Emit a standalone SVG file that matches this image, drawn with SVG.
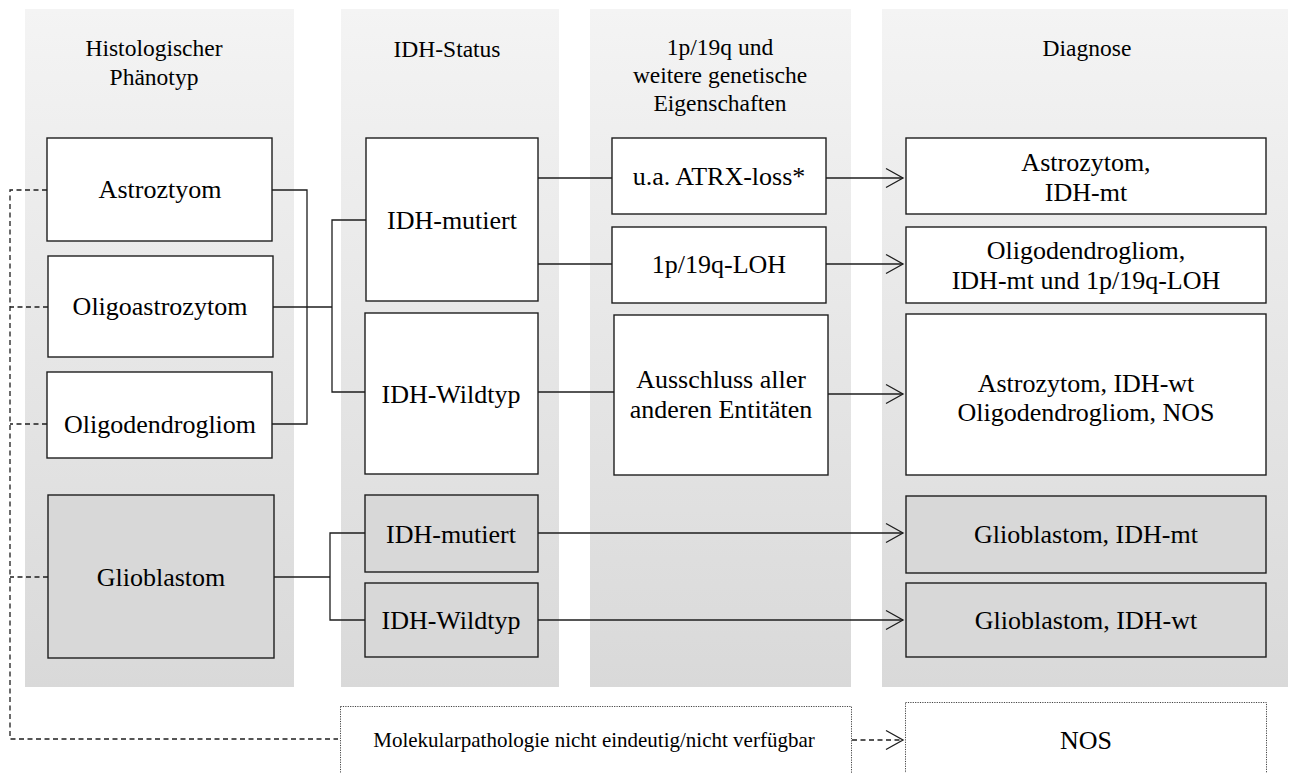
<svg xmlns="http://www.w3.org/2000/svg" width="1293" height="773" viewBox="0 0 1293 773">
<style>
.col{fill:url(#colgrad)}
.box{fill:#ffffff;stroke:#1e1e1e;stroke-width:1.4}
.gbox{fill:#d8d8d8;stroke:#1e1e1e;stroke-width:1.4}
.dot{fill:#ffffff;stroke:#444;stroke-width:1;stroke-dasharray:1.2 1.2}
text{font-family:'Liberation Serif','Tinos','Times New Roman','Nimbus Roman','DejaVu Serif',serif;fill:#000;text-anchor:middle}
.hd{font-size:23.5px}
.t{font-size:26px}
.sm{font-size:21px}
.ln{fill:none;stroke:#1e1e1e;stroke-width:1.3}
.ds{fill:none;stroke:#1e1e1e;stroke-width:1.3;stroke-dasharray:5 3.5}
</style>
<defs>
<linearGradient id="colgrad" x1="0" y1="0" x2="0" y2="1">
<stop offset="0" stop-color="#f4f4f4"/>
<stop offset="0.1" stop-color="#f1f1f1"/>
<stop offset="1" stop-color="#d9d9d9"/>
</linearGradient>
<marker id="arr" markerUnits="userSpaceOnUse" markerWidth="22" markerHeight="24" viewBox="0 0 22 24" refX="19" refY="12" orient="auto">
<path d="M2,2.5 L19,12 L2,21.5" fill="none" stroke="#1e1e1e" stroke-width="1.3" stroke-dasharray="none"/>
</marker>
</defs>
<rect width="1293" height="773" fill="#ffffff"/>
<g id="columns">
<rect class="col" x="25" y="9" width="269" height="678"/>
<rect class="col" x="341" y="9" width="218" height="678"/>
<rect class="col" x="590" y="9" width="261" height="678"/>
<rect class="col" x="882" y="9" width="406" height="678"/>
</g>
<g id="headers">
<text class="hd" x="154" y="56">Histologischer</text>
<text class="hd" x="154" y="85">Phänotyp</text>
<text class="hd" x="447" y="57">IDH-Status</text>
<text class="hd" x="720" y="55">1p/19q und</text>
<text class="hd" x="720" y="83">weitere genetische</text>
<text class="hd" x="720" y="111">Eigenschaften</text>
<text class="hd" x="1087" y="56">Diagnose</text>
</g>
<g id="connectors">
<path class="ds" d="M47,190 H10 V739 H338"/>
<path class="ds" d="M48,307 H10"/>
<path class="ds" d="M47,424 H10"/>
<path class="ds" d="M48,577 H10"/>
<path class="ln" d="M272,190 H307 V424 H272"/>
<path class="ln" d="M273,307 H332"/>
<path class="ln" d="M366,220 H332 V392 H365"/>
<path class="ln" d="M538,178 H612"/>
<path class="ln" d="M538,264 H612"/>
<path class="ln" d="M538,392 H614"/>
<path class="ln" d="M826,178 H903" marker-end="url(#arr)"/>
<path class="ln" d="M826,264 H903" marker-end="url(#arr)"/>
<path class="ln" d="M828,394 H903" marker-end="url(#arr)"/>
<path class="ln" d="M274,577 H330"/>
<path class="ln" d="M365,533 H330 V620 H365"/>
<path class="ln" d="M538,533 H903" marker-end="url(#arr)"/>
<path class="ln" d="M538,620 H903" marker-end="url(#arr)"/>
<path class="ds" d="M852,740 H903" marker-end="url(#arr)"/>
</g>
<g id="n-astro">
<rect class="box" x="47" y="138" width="225" height="103"/>
<text class="t" x="160" y="198">Astroztyom</text>
</g>
<g id="n-oligoastro">
<rect class="box" x="48" y="256" width="225" height="101"/>
<text class="t" x="160" y="315">Oligoastrozytom</text>
</g>
<g id="n-oligodendro">
<rect class="box" x="47" y="372" width="225" height="86"/>
<text class="t" x="160" y="433">Oligodendrogliom</text>
</g>
<g id="n-glio">
<rect class="gbox" x="48" y="495" width="226" height="163"/>
<text class="t" x="161" y="586">Glioblastom</text>
</g>
<g id="n-idhmut">
<rect class="box" x="366" y="138" width="172" height="163"/>
<text class="t" x="452" y="229">IDH-mutiert</text>
</g>
<g id="n-idhwt">
<rect class="box" x="365" y="313" width="173" height="161"/>
<text class="t" x="451" y="403">IDH-Wildtyp</text>
</g>
<g id="n-idhmut2">
<rect class="gbox" x="365" y="495" width="173" height="77"/>
<text class="t" x="451" y="543">IDH-mutiert</text>
</g>
<g id="n-idhwt2">
<rect class="gbox" x="365" y="583" width="173" height="74"/>
<text class="t" x="451" y="629">IDH-Wildtyp</text>
</g>
<g id="n-atrx">
<rect class="box" x="612" y="138" width="214" height="76"/>
<text class="t" x="719" y="185">u.a. ATRX-loss*</text>
</g>
<g id="n-loh">
<rect class="box" x="612" y="227" width="214" height="76"/>
<text class="t" x="719" y="273">1p/19q-LOH</text>
</g>
<g id="n-aussch">
<rect class="box" x="614" y="315" width="214" height="160"/>
<text class="t" x="721" y="388">Ausschluss aller</text>
<text class="t" x="721" y="418">anderen Entitäten</text>
</g>
<g id="n-d1">
<rect class="box" x="906" y="138" width="360" height="76"/>
<text class="t" x="1086" y="171">Astrozytom,</text>
<text class="t" x="1086" y="201">IDH-mt</text>
</g>
<g id="n-d2">
<rect class="box" x="906" y="227" width="360" height="76"/>
<text class="t" x="1086" y="259">Oligodendrogliom,</text>
<text class="t" x="1086" y="289">IDH-mt und 1p/19q-LOH</text>
</g>
<g id="n-d3">
<rect class="box" x="906" y="314" width="360" height="161"/>
<text class="t" x="1086" y="392">Astrozytom, IDH-wt</text>
<text class="t" x="1086" y="421">Oligodendrogliom, NOS</text>
</g>
<g id="n-d4">
<rect class="gbox" x="906" y="496" width="360" height="77"/>
<text class="t" x="1086" y="543">Glioblastom, IDH-mt</text>
</g>
<g id="n-d5">
<rect class="gbox" x="906" y="583" width="360" height="74"/>
<text class="t" x="1086" y="629">Glioblastom, IDH-wt</text>
</g>
<g id="n-molpath">
<rect class="dot" x="340.5" y="706.5" width="511" height="80"/>
<text class="sm" x="594" y="747">Molekularpathologie nicht eindeutig/nicht verfügbar</text>
</g>
<g id="n-nos">
<rect class="dot" x="905.5" y="702.5" width="361" height="84"/>
<text class="t" x="1086" y="749">NOS</text>
</g>
</svg>
